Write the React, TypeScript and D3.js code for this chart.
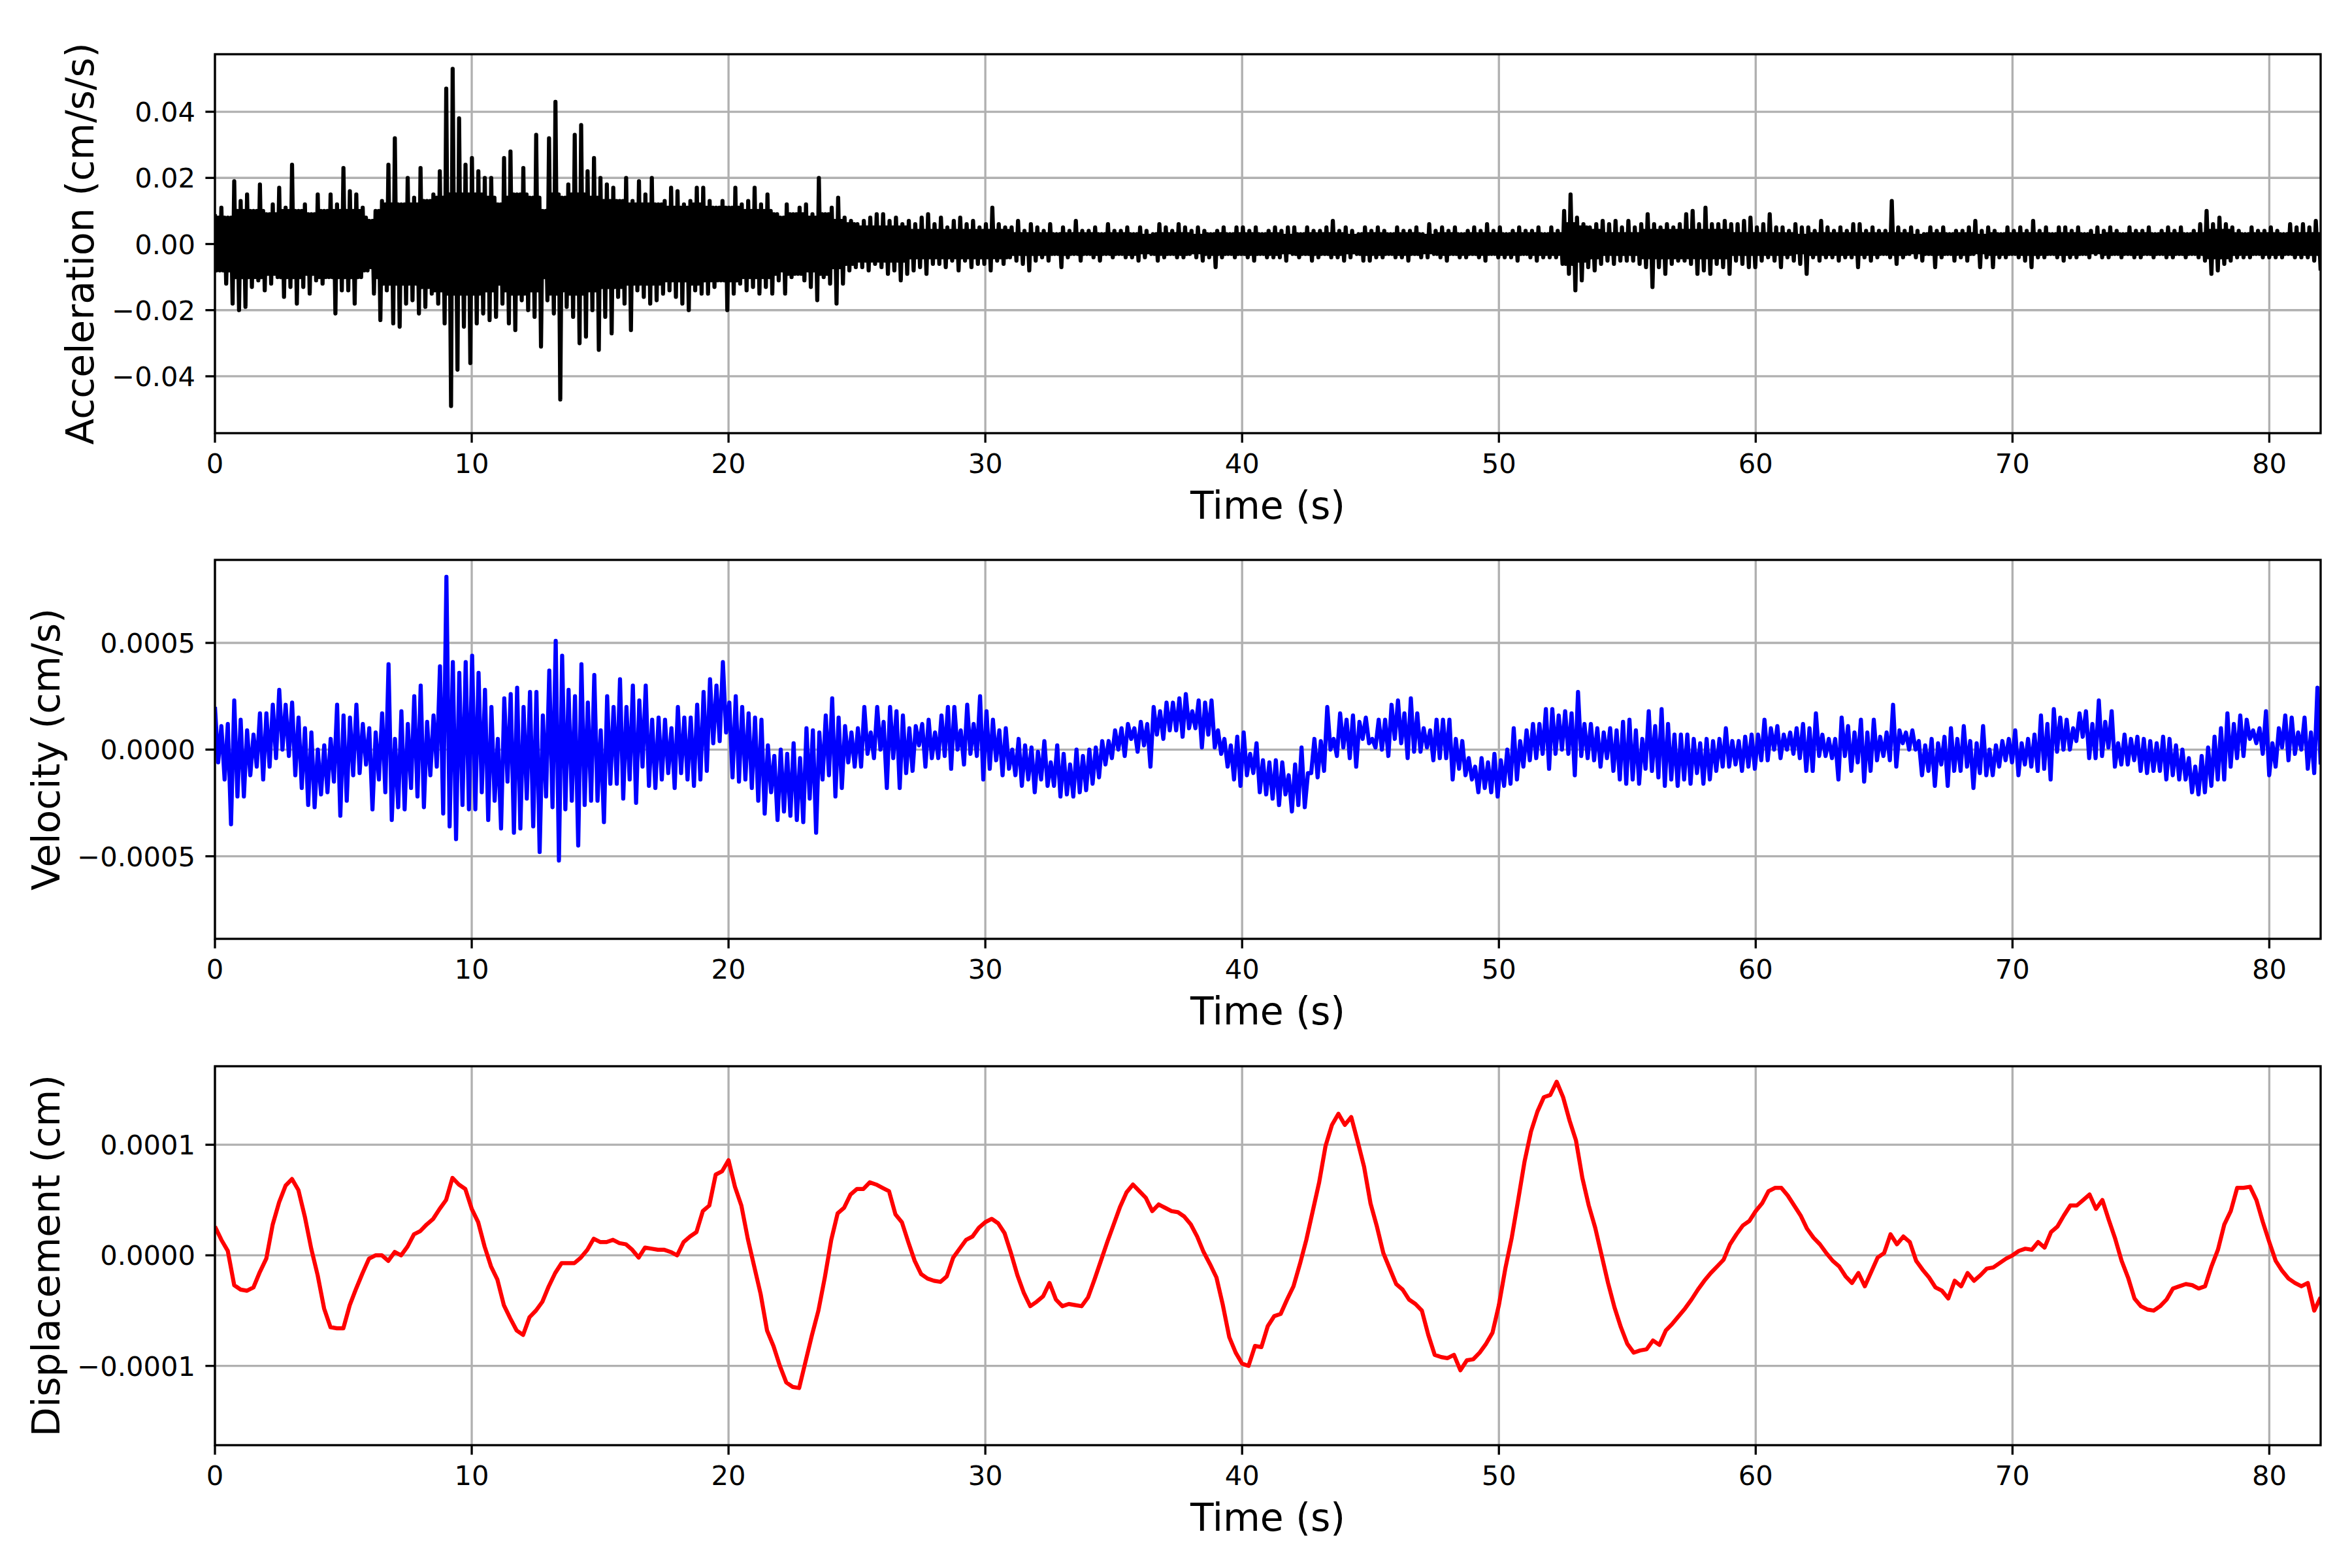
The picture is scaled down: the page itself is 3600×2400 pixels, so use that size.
import * as d3 from "d3";

// ---- data ----

const timeTicks = [0, 10, 20, 30, 40, 50, 60, 70, 80];
const duration = 82;

// acceleration, upper / lower extremes every 0.25 s (units of 1e-3 cm/s/s)
const accUpper = [
  9, 11, 8, 19, 13, 15, 10, 18,
  9, 12, 17, 11, 24, 10, 12, 9,
  15, 10, 15, 12, 23, 16, 15, 11,
  7, 10, 13, 24, 32, 12, 20, 14,
  23, 13, 15, 22, 47, 53, 38, 24,
  26, 22, 20, 20, 12, 26, 28, 15,
  23, 14, 33, 10, 32, 43, 14, 18,
  33, 36, 22, 26, 20, 18, 17, 13,
  20, 13, 19, 15, 20, 12, 13, 17,
  16, 12, 13, 17, 17, 13, 11, 13,
  11, 17, 12, 13, 17, 12, 15, 9,
  8, 12, 9, 11, 12, 9, 20, 9,
  11, 14, 8, 7, 6, 7, 8, 9,
  9, 7, 8, 6, 7, 6, 8, 9,
  6, 8, 5, 7, 8, 6, 7, 5,
  6, 11, 6, 5, 5, 7, 4, 6,
  5, 4, 6, 3, 5, 4, 7, 4,
  4, 5, 3, 6, 4, 4, 5, 3,
  5, 4, 3, 6, 5, 4, 6, 5,
  4, 5, 4, 3, 4, 5, 3, 5,
  5, 4, 5, 3, 4, 5, 4, 5,
  5, 3, 5, 4, 4, 5, 7, 4,
  5, 4, 3, 5, 4, 5, 4, 3,
  5, 4, 4, 5, 3, 6, 4, 5,
  4, 5, 3, 4, 5, 4, 6, 4,
  5, 3, 4, 5, 4, 4, 5, 3,
  5, 4, 10, 15, 8, 6, 5, 6,
  7, 6, 7, 5, 7, 5, 6, 9,
  6, 5, 6, 5, 6, 9, 10, 6,
  11, 6, 6, 7, 6, 6, 7, 8,
  5, 6, 9, 5, 5, 4, 6, 5,
  5, 4, 7, 5, 4, 5, 4, 6,
  6, 4, 5, 4, 4, 13, 5, 4,
  5, 4, 3, 5, 4, 5, 3, 4,
  4, 5, 7, 4, 5, 4, 3, 5,
  4, 5, 4, 7, 4, 5, 3, 5,
  5, 4, 5, 3, 4, 5, 4, 5,
  4, 3, 5, 4, 4, 5, 3, 4,
  5, 4, 5, 3, 4, 6, 10, 6,
  8, 6, 5, 4, 3, 5, 4, 4,
  5, 4, 3, 6, 5, 6, 5, 7,
];
const accLower = [
  -8, -12, -18, -20, -19, -13, -11, -14,
  -12, -10, -16, -13, -18, -13, -15, -11,
  -12, -10, -21, -14, -14, -18, -10, -8,
  -15, -23, -14, -24, -25, -18, -17, -21,
  -19, -15, -18, -24, -49, -38, -25, -36,
  -24, -21, -23, -22, -18, -24, -26, -17,
  -20, -22, -31, -17, -21, -47, -19, -22,
  -30, -28, -20, -32, -22, -27, -16, -18,
  -26, -14, -16, -18, -17, -15, -14, -16,
  -18, -20, -14, -15, -15, -13, -11, -20,
  -15, -12, -14, -13, -15, -13, -15, -11,
  -15, -10, -9, -11, -13, -17, -10, -12,
  -18, -12, -8, -7, -7, -8, -6, -7,
  -9, -8, -11, -9, -8, -7, -9, -6,
  -6, -7, -5, -8, -5, -7, -6, -6,
  -8, -5, -6, -4, -5, -6, -8, -5,
  -4, -5, -3, -7, -4, -3, -5, -3,
  -4, -5, -3, -4, -3, -4, -4, -5,
  -4, -3, -5, -4, -3, -4, -4, -3,
  -4, -5, -4, -7, -4, -3, -4, -3,
  -4, -5, -3, -4, -4, -4, -5, -3,
  -4, -3, -5, -4, -3, -4, -4, -5,
  -4, -3, -5, -5, -4, -4, -3, -4,
  -4, -5, -3, -4, -4, -3, -4, -5,
  -3, -4, -4, -3, -4, -5, -3, -4,
  -4, -4, -5, -3, -4, -5, -4, -4,
  -4, -6, -9, -14, -11, -7, -8, -6,
  -5, -6, -5, -5, -5, -6, -7, -13,
  -7, -9, -6, -5, -5, -6, -9, -8,
  -9, -6, -7, -9, -5, -6, -7, -7,
  -5, -4, -5, -7, -4, -5, -6, -9,
  -4, -5, -4, -4, -5, -4, -4, -7,
  -4, -5, -4, -3, -4, -6, -4, -3,
  -4, -5, -3, -7, -4, -3, -5, -4,
  -5, -3, -7, -4, -7, -4, -4, -3,
  -4, -5, -7, -4, -4, -3, -4, -5,
  -4, -4, -3, -4, -3, -4, -4, -3,
  -4, -3, -4, -4, -3, -4, -3, -4,
  -4, -3, -4, -3, -4, -5, -9, -8,
  -6, -5, -4, -4, -4, -3, -4, -4,
  -4, -4, -3, -4, -4, -4, -5, -8,
];
// half-width of the solid core of the acceleration band, every 0.5 s (1e-3 cm/s/s)
const accCore = [
  8, 10, 10, 10, 9, 10, 10, 9, 10, 10,
  10, 10, 11, 12, 12, 12, 13, 14, 15, 15,
  15, 14, 14, 15, 15, 14, 15, 15, 15, 14,
  13, 13, 12, 12, 12, 11, 11, 12, 11, 11,
  11, 10, 10, 10, 9, 9, 8, 9, 7, 6,
  5, 5, 5, 5, 4, 4, 4, 4, 4, 4,
  4, 4, 3, 3, 3, 3, 3, 3, 3, 3,
  3, 3, 2.5, 3, 3, 3, 2.5, 3, 3, 3,
  3, 3, 3, 2.5, 3, 3, 3, 3, 2.5, 3,
  3, 3, 3, 3, 2.5, 3, 3, 3, 3, 3,
  3, 3, 3, 3, 3, 6, 5, 4, 3, 3,
  3, 4, 4, 4, 4, 4, 4, 4, 3, 3,
  3, 3, 3, 2.5, 3, 3, 3, 3, 3, 3,
  3, 3, 2.5, 3, 3, 3, 3, 2.5, 3, 3,
  3, 3, 3, 3, 3, 3, 2.5, 3, 3, 3,
  3, 3, 3, 3, 3, 4, 4, 3, 3, 3,
  3, 3, 3, 3,
];

// velocity, upper / lower extremes every 0.25 s (units of 1e-5 cm/s)
const velUpper = [
  20, 11, 12, 23, 14, 9, 7, 17,
  17, 21, 28, 21, 22, 15, 10, 8,
  0, 2, 5, 21, 16, 15, 21, 12,
  10, 8, 17, 40, 5, 18, 12, 25,
  30, 13, 16, 39, 81, 41, 36, 41,
  44, 36, 28, 20, 5, 24, 26, 29,
  20, 27, 27, 16, 37, 51, 44, 28,
  25, 40, 22, 35, 9, 25, 20, 33,
  20, 30, 23, 30, 14, 15, 14, 10,
  20, 15, 15, 21, 27, 33, 30, 41,
  22, 25, 20, 17, 15, 14, 2, -3,
  0, -2, 3, -4, 10, 9, 8, 16,
  24, 15, 11, 8, 10, 20, 8, 20,
  13, 20, 18, 16, 10, 11, 12, 14,
  8, 16, 20, 20, 9, 21, 12, 25,
  18, 14, 9, 10, 0, 5, 2, 1,
  -1, 4, -6, 2, -2, -7, 0, -3,
  0, 1, 4, 4, 9, 10, 12, 10,
  13, 12, 20, 18, 22, 22, 24, 26,
  18, 23, 22, 23, 9, 5, 2, 6,
  8, -2, 3, -5, -6, -5, -6, -12,
  -7, 1, -11, 5, 4, 20, 5, 17,
  14, 16, 13, 15, 5, 14, 14, 21,
  23, 17, 24, 17, 10, 9, 14, 14,
  14, 5, 4, -4, -8, -4, -6, -2,
  -5, 0, 10, 4, 9, 12, 12, 19,
  19, 16, 18, 17, 27, 12, 12, 10,
  8, 10, 9, 13, 14, 9, 5, 18,
  11, 19, 12, 7, 7, 7, 5, 3,
  5, 4, 5, 10, 4, 4, 6, 7,
  7, 14, 10, 11, 7, 8, 10, 12,
  10, 17, 7, 5, 5, 15, 11, 8,
  14, 8, 14, 6, 8, 21, 9, 8,
  9, 4, 2, 5, 3, 6, 10, 5,
  11, 4, 3, 11, 0, 2, 4, 5,
  9, 3, 5, 7, 16, 12, 19, 15,
  14, 10, 17, 18, 12, 23, 13, 18,
  3, 7, 5, 6, 5, 4, 3, 6,
  5, 2, 0, -4, -8, -3, 1, 6,
  10, 17, 12, 16, 14, 9, 10, 18,
  3, 10, 16, 15, 8, 15, 8, 29,
];
const velLower = [
  -6, -14, -35, -22, -22, -12, -8, -14,
  -8, -4, 0, -3, -12, -18, -26, -27,
  -21, -20, -15, -31, -24, -12, -11, -7,
  -28, -14, -20, -33, -27, -28, -18, -22,
  -27, -12, -8, -30, -36, -42, -26, -28,
  -28, -20, -33, -24, -37, -15, -39, -37,
  -23, -36, -48, -22, -27, -52, -28, -24,
  -45, -26, -24, -24, -34, -16, -16, -23,
  -14, -25, -8, -17, -18, -14, -11, -18,
  -11, -14, -17, -14, -10, 3, 4, 8,
  -13, -15, -14, -18, -24, -30, -20, -33,
  -29, -31, -33, -34, -23, -39, -14, -12,
  -22, -18, -6, -8, -8, -2, -4, 0,
  -18, -4, -18, -11, -10, 2, -8, -4,
  -4, -3, -9, 0, -7, -2, -3, -14,
  -9, -5, -12, -9, -12, -17, -14, -20,
  -14, -17, -17, -22, -21, -22, -20, -19,
  -16, -13, -7, -4, 0, -3, 5, -1,
  2, -8, 7, 5, 9, 9, 6, 10,
  10, 1, 7, 1, -2, -8, -14, -17,
  -12, -11, -20, -21, -23, -26, -21, -29,
  -26, -27, -11, -13, -10, 0, -3, 1,
  -4, -8, 5, 3, 1, 0, -3, 5,
  3, -4, -1, -1, 1, -5, -4, -4,
  -14, -9, -12, -14, -20, -18, -20, -22,
  -17, -16, -14, -8, -5, -4, -2, -9,
  -2, 0, -2, -12, -3, -4, -5, -8,
  -4, -10, -14, -16, -14, -16, -9, -10,
  -13, -17, -14, -17, -14, -16, -11, -16,
  -14, -10, -8, -8, -7, -10, -8, -9,
  -5, -5, 0, -4, 0, -2, -4, -10,
  -10, -3, -3, -4, -14, -3, -10, -6,
  -15, -10, -5, -3, -5, -8, 3, 0,
  0, -12, -10, -17, -7, -17, -10, -10,
  -8, -18, -11, -12, -12, -8, -5, -6,
  -12, -7, -8, -10, -9, -14, -1, 0,
  0, 4, 6, -4, -4, -3, 1, -8,
  -7, -7, -5, -10, -11, -10, -10, -14,
  -12, -14, -14, -20, -21, -20, -17, -14,
  -14, -8, -4, -3, 5, 3, -2, -12,
  -8, 1, -5, -2, 0, -9, -11, -7,
];

// displacement every 0.25 s (units of 1e-6 cm)
const displacement = [
  26, 14, 4, -27, -31, -32, -29, -15,
  -3, 28, 48, 63, 69, 59, 35, 6,
  -18, -48, -65, -66, -66, -45, -30, -16,
  -3, 0, 0, -5, 3, 0, 8, 19,
  22, 28, 33, 42, 50, 70, 64, 60,
  42, 30, 8, -10, -22, -45, -57, -68,
  -72, -56, -50, -42, -28, -16, -7, -7,
  -7, -2, 5, 15, 12, 12, 14, 11,
  10, 5, -2, 7, 6, 5, 5, 3,
  0, 12, 17, 21, 40, 45, 73, 76,
  86, 62, 45, 15, -10, -35, -68, -82,
  -100, -115, -119, -120, -96, -72, -50, -20,
  14, 38, 43, 55, 60, 60, 66, 64,
  61, 58, 37, 30, 12, -5, -17, -21,
  -23, -24, -19, -2, 6, 14, 17, 25,
  30, 33, 29, 20, 2, -18, -34, -46,
  -42, -37, -25, -40, -46, -44, -45, -46,
  -38, -22, -5, 12, 28, 44, 57, 64,
  58, 52, 40, 46, 43, 40, 39, 35,
  28, 17, 3, -8, -20, -45, -74, -88,
  -98, -100, -82, -83, -64, -55, -53, -40,
  -28, -8, 14, 40, 66, 99, 118, 128,
  118, 125, 103, 80, 47, 26, 2, -12,
  -26, -31, -40, -44, -50, -72, -90, -92,
  -93, -90, -104, -95, -94, -88, -80, -70,
  -45, -12, 16, 50, 85, 112, 130, 143,
  145, 157, 143, 122, 104, 70, 45, 25,
  0, -25, -47, -65, -80, -88, -86, -85,
  -77, -81, -68, -62, -55, -48, -40, -31,
  -23, -16, -10, -4, 10, 19, 27, 31,
  40, 47, 58, 61, 61, 54, 45, 36,
  24, 16, 10, 2, -5, -10, -19, -25,
  -16, -28, -15, -2, 2, 19, 10, 17,
  12, -5, -13, -20, -29, -32, -39, -23,
  -28, -16, -23, -18, -12, -11, -7, -3,
  0, 4, 6, 5, 12, 7, 21, 26,
  36, 45, 45, 50, 55, 42, 50, 32,
  15, -5, -20, -39, -46, -49, -50, -46,
  -40, -30, -28, -26, -27, -30, -28, -10,
  5, 28, 40, 61, 61, 62, 50, 30,
  12, -5, -14, -21, -25, -28, -25, -50,
  -38,
];

const accTicks = [-0.04, -0.02, 0, 0.02, 0.04];
const velTicks = [-0.0005, 0, 0.0005];
const dispTicks = [-0.0001, 0, 0.0001];

// ---- layout (pixels at 300 dpi) ----
const W = 3600;
const H = 2400;
const LEFT = 329;
const RIGHT = 3552;
const PANEL_H = 580;
const FONT = "DejaVu Sans";
const TICK_FS = 41.67;
const LABEL_FS = 58.33;
const LW = 3.33;
const TICK_LEN = 14.6;

// upper extreme, core band, lower extreme for each 0.25 s bin
function accTrace() {
  const out: number[] = [];
  accUpper.forEach((u, i) => {
    const c = Math.min(accCore[Math.floor(i / 2)], u, -accLower[i]);
    out.push(u * 1e-3, -c * 1e-3, c * 1e-3, accLower[i] * 1e-3);
  });
  return out;
}

function interleave(upper: number[], lower: number[], unit: number) {
  const out: number[] = [];
  upper.forEach((u, i) => {
    out.push(u * unit);
    out.push(lower[i] * unit);
  });
  return out;
}

const accSeries = accTrace();
const velSeries = interleave(velUpper, velLower, 1e-5);
const dispSeries = displacement.map((d) => d * 1e-6);

interface PanelProps {
  id: string;
  top: number;
  values: number[];
  yDomain: [number, number];
  yTicks: number[];
  fmt: (v: number) => string;
  label: string;
  labelX: number;
  color: string;
}

function Panel({ id, top, values, yDomain, yTicks, fmt, label, labelX, color }: PanelProps) {
  const bottom = top + PANEL_H;
  const x = d3.scaleLinear().domain([0, duration]).range([LEFT, RIGHT]);
  const y = d3.scaleLinear().domain(yDomain).range([bottom, top]);
  const n = values.length;
  const line = d3
    .line<number>()
    .x((_, i) => x((i * duration) / (n - 1)))
    .y((d) => y(d));

  return (
    <g>
      <defs>
        <clipPath id={`clip-${id}`}>
          <rect x={LEFT} y={top} width={RIGHT - LEFT} height={PANEL_H} />
        </clipPath>
      </defs>
      {/* grid */}
      {timeTicks.map((t) => (
        <line key={`gx${t}`} x1={x(t)} x2={x(t)} y1={top} y2={bottom} stroke="#b0b0b0" strokeWidth={LW} />
      ))}
      {yTicks.map((v) => (
        <line key={`gy${v}`} x1={LEFT} x2={RIGHT} y1={y(v)} y2={y(v)} stroke="#b0b0b0" strokeWidth={LW} />
      ))}
      {/* data */}
      <path
        d={line(values) ?? ""}
        fill="none"
        stroke={color}
        strokeWidth={6.25}
        strokeLinejoin="round"
        clipPath={`url(#clip-${id})`}
      />
      {/* spines */}
      <rect x={LEFT} y={top} width={RIGHT - LEFT} height={PANEL_H} fill="none" stroke="#000" strokeWidth={LW} />
      {/* x ticks */}
      {timeTicks.map((t) => (
        <g key={`tx${t}`}>
          <line x1={x(t)} x2={x(t)} y1={bottom} y2={bottom + TICK_LEN} stroke="#000" strokeWidth={LW} />
          <text x={x(t)} y={bottom + 60.5} textAnchor="middle" fontFamily={FONT} fontSize={TICK_FS}>
            {t}
          </text>
        </g>
      ))}
      {/* y ticks */}
      {yTicks.map((v) => (
        <g key={`ty${v}`}>
          <line x1={LEFT - TICK_LEN} x2={LEFT} y1={y(v)} y2={y(v)} stroke="#000" strokeWidth={LW} />
          <text x={LEFT - 30} y={y(v) + 15} textAnchor="end" fontFamily={FONT} fontSize={TICK_FS}>
            {fmt(v)}
          </text>
        </g>
      ))}
      <text
        x={(LEFT + RIGHT) / 2}
        y={bottom + 131}
        textAnchor="middle"
        fontFamily={FONT}
        fontSize={LABEL_FS}
      >
        Time (s)
      </text>
      <text
        transform={`translate(${labelX}, ${(top + bottom) / 2}) rotate(-90)`}
        textAnchor="middle"
        fontFamily={FONT}
        fontSize={LABEL_FS}
      >
        {label}
      </text>
    </g>
  );
}

export default function App() {
  return (
    <svg
      width={W}
      height={H}
      viewBox={`0 0 ${W} ${H}`}
      style={{ position: "absolute", left: 0, top: 0, background: "#fff" }}
    >
      <rect width={W} height={H} fill="#fff" />
      <Panel
        id="acc"
        top={83}
        values={accSeries}
        yDomain={[-0.0572, 0.0574]}
        yTicks={accTicks}
        fmt={d3.format(".2f")}
        label="Acceleration (cm/s/s)"
        labelX={143}
        color="#000000"
      />
      <Panel
        id="vel"
        top={857}
        values={velSeries}
        yDomain={[-0.000887, 0.000889]}
        yTicks={velTicks}
        fmt={d3.format(".4f")}
        label="Velocity (cm/s)"
        labelX={91}
        color="#0000ff"
      />
      <Panel
        id="disp"
        top={1632}
        values={dispSeries}
        yDomain={[-0.0001717, 0.000171]}
        yTicks={dispTicks}
        fmt={d3.format(".4f")}
        label="Displacement (cm)"
        labelX={91}
        color="#ff0000"
      />
    </svg>
  );
}
